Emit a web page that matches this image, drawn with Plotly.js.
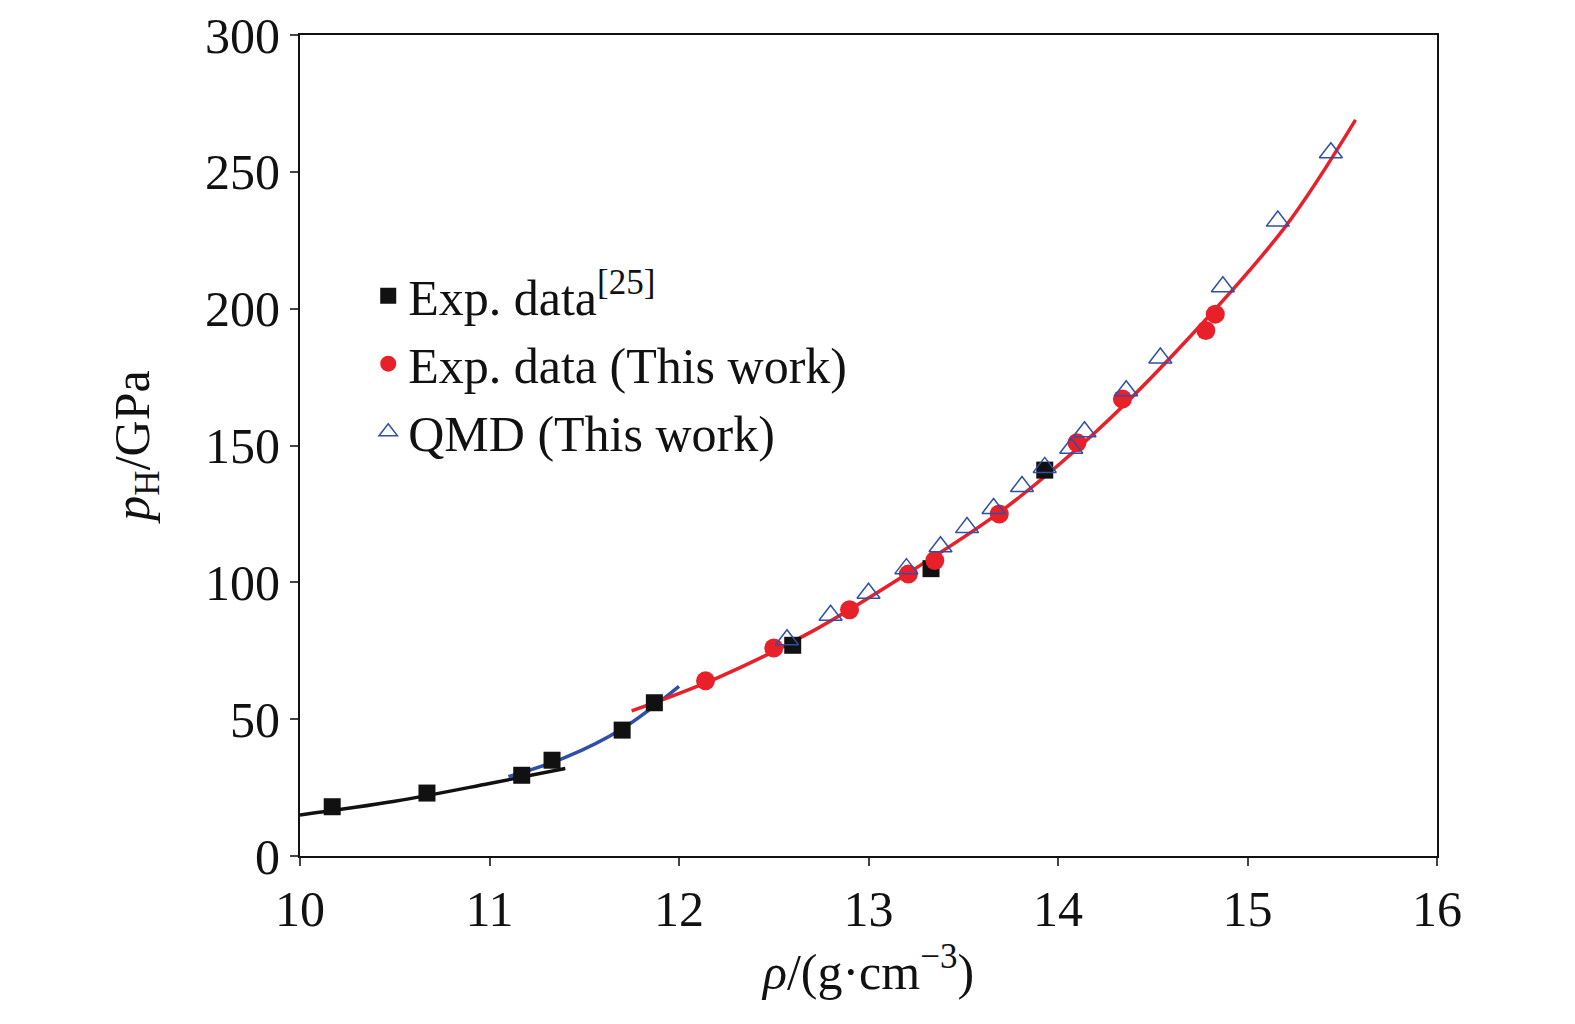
<!DOCTYPE html>
<html>
<head>
<script src="https://cdn.plot.ly/plotly-3.0.1.min.js"></script>
<style>body{margin:0;background:#fff}</style>
</head>
<body>
<div id="chart" style="width:1575px;height:1024px"></div>
<script>
let sqX = [10.17, 10.67, 11.17, 11.33, 11.70, 11.87, 12.60, 13.33, 13.93];
let sqY = [18, 23, 29.5, 35, 46, 56, 77, 105, 141];
let ciX = [12.14, 12.50, 12.90, 13.21, 13.35, 13.69, 14.10, 14.34, 14.78, 14.83];
let ciY = [64, 76, 90, 103, 108, 125, 151, 167, 192, 198];
let trX = [12.57, 12.80, 13.00, 13.20, 13.38, 13.52, 13.66, 13.81, 13.93, 14.07, 14.14, 14.36, 14.54, 14.87, 15.16, 15.44];
let trY = [79, 88, 96, 105, 113, 120, 127, 135, 142, 149, 155, 170, 182, 208, 232, 257];

let blackFitX = [10.0, 10.5, 11.0, 11.4];
let blackFitY = [15, 20, 26.5, 32];
let blueFitX = [11.1, 11.4, 11.7, 12.0];
let blueFitY = [29, 36, 46.5, 62];
let redFitX = [11.75, 12.2, 12.7, 13.2, 13.7, 14.2, 14.7, 15.2, 15.57];
let redFitY = [53, 65, 82, 103, 126, 155, 190, 230, 269];

let font = "Liberation Serif, Times New Roman, serif";

let traces = [
  {x: blackFitX, y: blackFitY, mode: "lines", line: {color: "#111", width: 3.5, shape: "spline"}, showlegend: false},
  {x: blueFitX, y: blueFitY, mode: "lines", line: {color: "#2f4fa8", width: 3.5, shape: "spline"}, showlegend: false},
  {x: redFitX, y: redFitY, mode: "lines", line: {color: "#e8202a", width: 3.5, shape: "spline"}, showlegend: false},
  {x: sqX, y: sqY, mode: "markers", name: "Exp. data<sup>[25]</sup>",
   marker: {symbol: "square", size: 17, color: "#111"}},
  {x: ciX, y: ciY, mode: "markers", name: "Exp. data (This work)",
   marker: {symbol: "circle", size: 19, color: "#e8202a"}},
  {x: trX, y: trY, mode: "markers", name: "QMD (This work)",
   marker: {symbol: "triangle-up-open", size: 20, color: "#2f4fa8", line: {width: 1.5}}}
];

let layout = {
  width: 1575, height: 1024,
  margin: {l: 300, r: 138, t: 35, b: 168},
  paper_bgcolor: "#fff", plot_bgcolor: "#fff",
  font: {family: font, size: 50, color: "#111"},
  showlegend: true,
  legend: {x: 0.06, y: 0.73, xanchor: "left", yanchor: "top", bgcolor: "rgba(0,0,0,0)",
           font: {size: 50}, itemwidth: 30, tracegroupgap: 0},
  xaxis: {
    range: [10, 16], dtick: 1, showgrid: false, zeroline: false,
    showline: true, mirror: true, linecolor: "#111", linewidth: 2,
    ticks: "outside", ticklen: 8, tickwidth: 2,
    title: {text: "<i>ρ</i>/(g·cm<sup>−3</sup>)", font: {size: 50}, standoff: 18}
  },
  yaxis: {
    range: [0, 300], dtick: 50, showgrid: false, zeroline: false,
    showline: true, mirror: true, linecolor: "#111", linewidth: 2,
    ticks: "outside", ticklen: 8, tickwidth: 2,
    title: {text: "<i>p</i><sub>H</sub>/GPa", font: {size: 50}, standoff: 40}
  }
};

Plotly.newPlot("chart", traces, layout, {staticPlot: true, displayModeBar: false});
</script>
</body>
</html>
